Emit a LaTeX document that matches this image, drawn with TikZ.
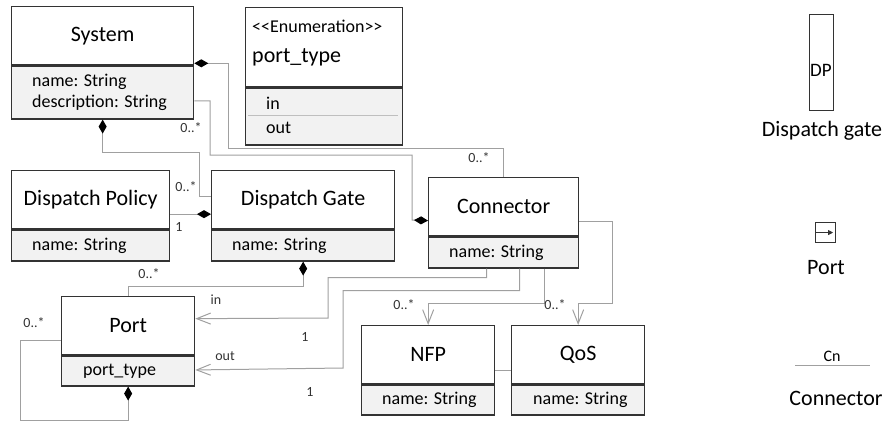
\documentclass[tikz,border=0pt]{standalone}
\usepackage{fontspec}
\setmainfont{Carlito}
\usetikzlibrary{arrows.meta,calc}
\definecolor{boxc}{HTML}{333333}
\definecolor{linec}{HTML}{A0A0A0}
\definecolor{attrfill}{HTML}{F2F2F2}
\definecolor{lblc}{HTML}{333333}
\tikzset{
  titlebox/.style={draw=boxc, line width=1.3pt, fill=white, inner sep=0pt, font=\fontsize{22}{26}\selectfont},
  attrbox/.style={draw=boxc, line width=1.3pt, fill=attrfill, inner sep=0pt},
  attrtext/.style={anchor=west, align=left, inner sep=0pt, font=\fontsize{18}{21}\selectfont},
  assoc/.style={draw=linec, line width=1pt},
  comp/.tip={Diamond[length=14pt,width=8pt,color=black,fill=black]},
  openv/.tip={Straight Barb[length=14pt,width=11pt,line width=1pt]},
  lbl/.style={font=\fontsize{14}{16}\selectfont, inner sep=0pt, text=lblc},
  legtext/.style={font=\fontsize{22}{26}\selectfont, inner sep=0pt},
}
\begin{document}
\begin{tikzpicture}[x=1pt,y=-1pt]
\path[use as bounding box] (0,0) rectangle (886,421);

% System
\node[titlebox, minimum width=182, minimum height=58, anchor=north west] (sysT) at (11,6) {System};
\node[attrbox, minimum width=182, minimum height=53, anchor=north west] (sysA) at (sysT.south west) {};
\node[attrtext] (sysAt) at ([xshift=21pt]sysA.west) {name: String\\description: String};

% Enumeration
\node[titlebox, minimum width=157, minimum height=79, anchor=north west] (enT) at (245,7) {};
\node[anchor=west, inner sep=0pt, font=\fontsize{18}{21}\selectfont] (enS) at (252,26) {<{}<Enumeration>{}>};
\node[anchor=west, inner sep=0pt, font=\fontsize{22}{26}\selectfont] (enN) at (252,57) {port\_type};
\node[attrbox, minimum width=157, minimum height=57, anchor=north west] (enA) at (enT.south west) {};
\node[attrtext] (enIn) at (266,103) {in};
\node[attrtext] (enOut) at (266,128) {out};
\draw[draw=black!25, line width=0.6pt] (248,115) -- (398,115);

% Dispatch Policy
\node[titlebox, minimum width=158, minimum height=58, anchor=north west] (dpT) at (11,170) {Dispatch Policy};
\node[attrbox, minimum width=158, minimum height=31, anchor=north west] (dpA) at (dpT.south west) {};
\node[attrtext] (dpAt) at ([xshift=21pt]dpA.west) {name: String};

% Dispatch Gate
\node[titlebox, minimum width=183, minimum height=58, anchor=north west] (dgT) at (211,170) {Dispatch Gate};
\node[attrbox, minimum width=183, minimum height=31, anchor=north west] (dgA) at (dgT.south west) {};
\node[attrtext] (dgAt) at ([xshift=21pt]dgA.west) {name: String};

% Connector
\node[titlebox, minimum width=150, minimum height=58, anchor=north west] (conT) at (428,177) {Connector};
\node[attrbox, minimum width=150, minimum height=31, anchor=north west] (conA) at (conT.south west) {};
\node[attrtext] (conAt) at ([xshift=21pt]conA.west) {name: String};

% Port
\node[titlebox, minimum width=133, minimum height=58, anchor=north west] (portT) at (61,296) {Port};
\node[attrbox, minimum width=133, minimum height=30, anchor=north west] (portA) at (portT.south west) {};
\node[attrtext] (portAt) at ([xshift=22pt]portA.west) {port\_type};

% NFP
\node[titlebox, minimum width=133, minimum height=58, anchor=north west] (nfpT) at (361,325) {NFP};
\node[attrbox, minimum width=133, minimum height=30, anchor=north west] (nfpA) at (nfpT.south west) {};
\node[attrtext] (nfpAt) at ([xshift=21pt]nfpA.west) {name: String};

% QoS
\node[titlebox, minimum width=133, minimum height=58, anchor=north west] (qosT) at (511,325) {QoS};
\node[attrbox, minimum width=133, minimum height=30, anchor=north west] (qosA) at (qosT.south west) {};
\node[attrtext] (qosAt) at ([xshift=22pt]qosA.west) {name: String};

% Connectors
\draw[assoc, {comp}-] ([yshift=2pt]sysT.south east) -| (228,148) -| (conT.north);
\draw[assoc, -{comp}] ([yshift=-8.5pt]sysA.east) -| (210,155) -| (412,220) -- ([yshift=-14pt]conT.west);
\draw[assoc, {comp}-] (sysA.south) |- (199,152) |- ([yshift=3.5pt]dgT.west);
\draw[assoc, -{comp}] ([yshift=-14.5pt]dpT.east) -- ([yshift=-14.5pt]dgT.west);
\draw[assoc, {comp}-] (dgA.south) -- ++(0,25) -| (portT.north);
\draw[assoc, -{openv}] ([xshift=-17pt]conA.south) -- ++(0,9) -| (328,318) -- ([yshift=7pt]portT.east);
\draw[assoc, -{openv}] ([xshift=16pt]conA.south) -- ++(0,22) -| (343,368) -- ([yshift=1pt]portA.east);
\draw[assoc, -{openv}] ([xshift=41pt]conA.south) -- ++(0,35) -| (nfpT.north);
\draw[assoc, -{openv}] ([yshift=-15pt]conT.east) -| (612,303) -| (qosT.north);
\draw[assoc] ([yshift=-15.5pt]nfpT.east) -- ([yshift=-15.5pt]qosT.west);
\draw[assoc, -{comp}] ([yshift=-15pt]portT.west) -| (20,420) -| (portA.south);

% Multiplicity labels
\node[lbl] (m1) at (191,128) {0..*};
\node[lbl] (m2) at (479,158) {0..*};
\node[lbl] (m3) at (186,187) {0..*};
\node[lbl] (m4) at (179,227) {1};
\node[lbl] (m5) at (149,274) {0..*};
\node[lbl] (m6) at (216,300) {in};
\node[lbl] (m7) at (305,337) {1};
\node[lbl] (m8) at (225,356) {out};
\node[lbl] (m9) at (310,392) {1};
\node[lbl] (m10) at (404,305) {0..*};
\node[lbl] (m11) at (555,305) {0..*};
\node[lbl] (m12) at (34,323) {0..*};

% Legend
\node[draw=boxc, line width=1.3pt, minimum width=24, minimum height=96, anchor=north west, inner sep=0pt] (dpIcon) at (809,14) {};
\node[anchor=west, inner sep=0pt, font=\fontsize{19}{22}\selectfont] (dpTxt) at (810,70) {DP};
\node[legtext] (dpLab) at (822,131) {Dispatch gate};
\node[draw=boxc, line width=1.1pt, minimum size=20, inner sep=0pt, anchor=north west] (portIcon) at (815,222) {};
\draw[boxc, line width=0.8pt, -{Triangle[length=5pt,width=5pt]}] (portIcon.west) -- ([xshift=-3pt]portIcon.east);
\node[legtext] (portLab) at (826,268) {Port};
\node[font=\fontsize{16}{18}\selectfont, inner sep=0pt] (cnTxt) at (832,356) {Cn};
\coordinate (cnL) at (795,365);
\coordinate (cnR) at (870,365);
\draw[linec, line width=1pt] (cnL) -- (cnR);
\node[legtext] (cnLab) at (836,398) {Connector};
\end{tikzpicture}
\end{document}
